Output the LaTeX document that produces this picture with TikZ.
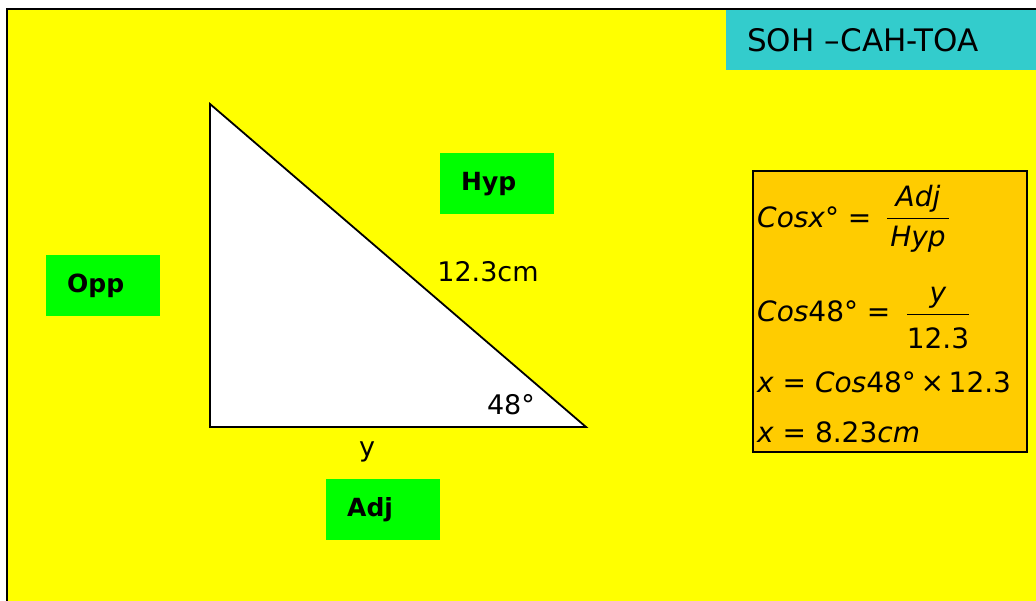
\documentclass[tikz,border=0pt]{standalone}
\usepackage{fontspec}
\setmainfont{DejaVu Sans}
\definecolor{bgyellow}{HTML}{FFFF00}
\definecolor{teal}{HTML}{33CCCC}
\definecolor{lgreen}{HTML}{00FF00}
\definecolor{orangebox}{HTML}{FFCC00}
\tikzset{
  greenbox/.style={fill=lgreen, minimum height=61pt, text width=72pt, inner xsep=21pt, align=left, font=\fontsize{25}{28}\selectfont\bfseries},
  lbl/.style={font=\fontsize{27}{30}\selectfont, inner sep=0pt},
  frm/.style={font=\fontsize{28}{32}\selectfont, inner sep=0pt, anchor=base west},
  frc/.style={font=\fontsize{28}{32}\selectfont, inner sep=0pt, anchor=base},
}
\begin{document}
\begin{tikzpicture}[x=1pt,y=-1pt]
\useasboundingbox (0,0) rectangle (1036,601);
\fill[white] (0,0) rectangle (1036,601);
\draw[fill=bgyellow, line width=2pt] (7,9) rectangle (1045,610);
% title
\node[fill=teal, minimum height=60pt, text width=289pt, inner xsep=21pt, align=left, anchor=north west, font=\fontsize{31}{34}\selectfont] (title) at (726,10) {SOH –CAH-TOA};
% triangle
\coordinate (A) at (210,104);
\coordinate (B) at (210,427);
\coordinate (C) at (586,427);
\draw[fill=white, line width=1.8pt, line join=miter] (A) -- (B) -- (C) -- cycle;
% labels
\node[greenbox, anchor=north west] (hyp) at (440,153) {Hyp};
\node[greenbox, anchor=north west] (opp) at (46,255) {Opp};
\node[greenbox, anchor=north west] (adj) at (326,479) {Adj};
\node[lbl] (len) at (488,272) {12.3cm};
\node[lbl] (ang) at (511,405) {48°};
\node[lbl] (yy) at (367,452) {y};
% formula box
\draw[fill=orangebox, line width=1.2pt] (753,171) rectangle (1027,452);
\node[frm] (l1) at (757,228) {\itshape Cosx\upshape° =};
\node[frc] (n1) at (918,207) {\itshape Adj};
\node[frc] (d1) at (918,247) {\itshape Hyp};
\draw[line width=1pt] (887,219) -- (949,219);
\node[frm] (l2) at (757,322) {\itshape Cos\upshape48° =};
\node[frc] (n2) at (938,303) {\itshape y};
\node[frc] (d2) at (938,349) {12.3};
\draw[line width=1pt] (907,315) -- (969,315);
\node[frm] (l3) at (757,392) {\itshape x \upshape= \itshape Cos\upshape48°\,×\,12.3};
\node[frm] (l4) at (757,442) {\itshape x \upshape= 8.23\itshape cm};
\end{tikzpicture}
\end{document}
